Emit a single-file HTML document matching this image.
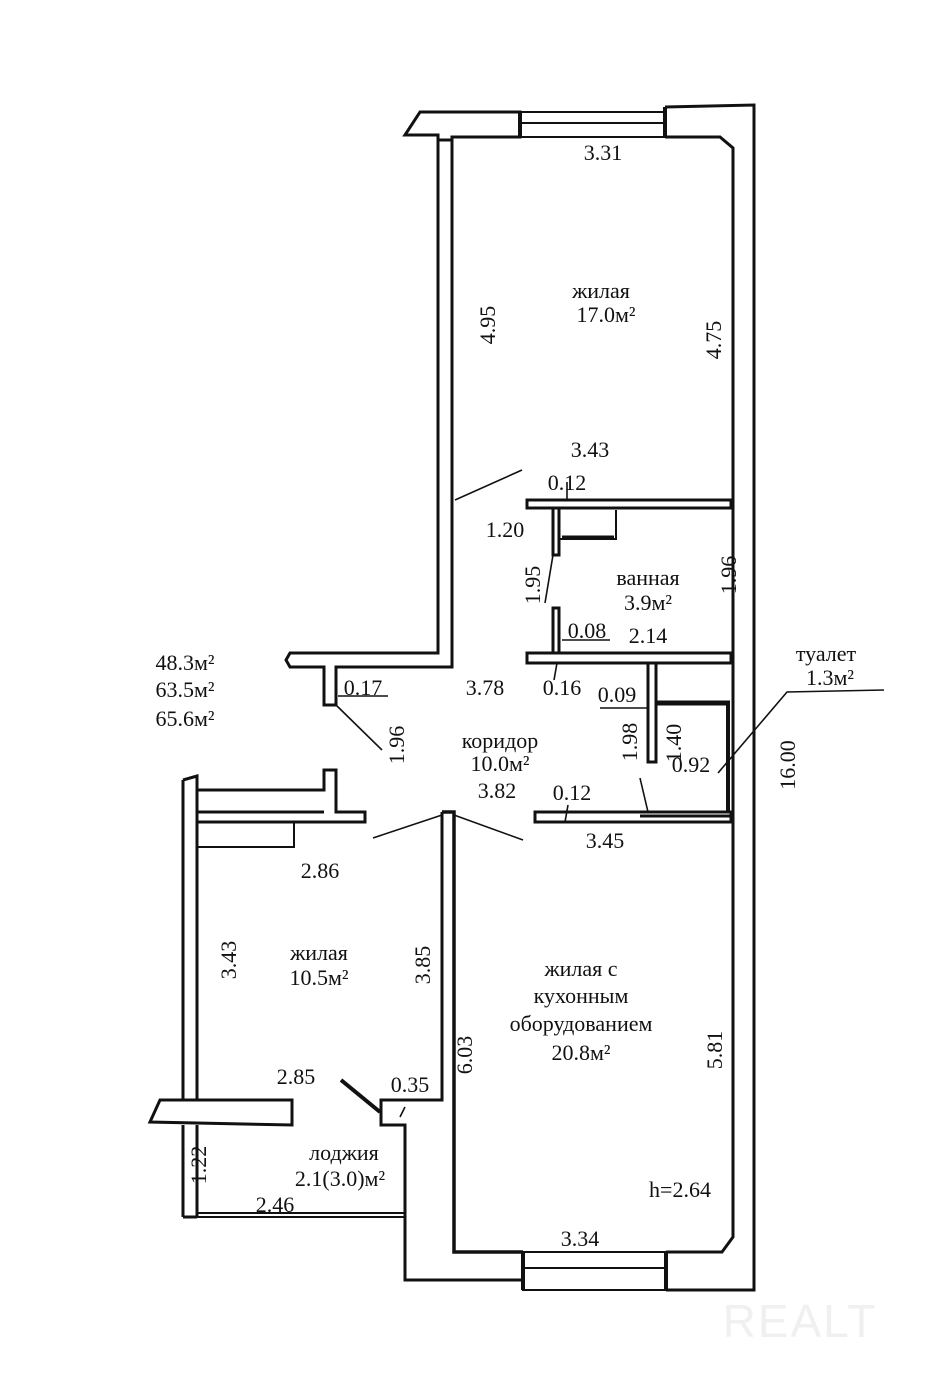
<!DOCTYPE html>
<html><head><meta charset="utf-8"><style>
html,body{margin:0;padding:0;background:#fff;}
svg{display:block;}
text{font-family:"Liberation Serif",serif;font-size:22px;fill:#111;}
</style></head><body>
<svg width="939" height="1388" viewBox="0 0 939 1388" xmlns="http://www.w3.org/2000/svg">
<g fill="none" stroke="#111" stroke-width="3" stroke-linejoin="miter">
<polyline points="665,107 754,105 754,1290 666,1290"/>
<polyline points="665,137 720,137 733,148 733,1237 722,1252 666,1252"/>
<polygon points="405,135 420,112 520,112 520,137 452,137 452,140 438,140 438,135"/>
<polygon points="520,112 665,112 665,137 520,137" stroke-width="2"/>
<line x1="522" y1="123" x2="663" y2="123" stroke-width="2"/>
<line x1="665" y1="107" x2="665" y2="137" stroke-width="4"/>
<line x1="520" y1="112" x2="520" y2="137" stroke-width="4"/>
<polyline points="438,140 438,653 290,653 286,660 290,667 324,667 324,705 336,705 336,667 452,667 452,140"/>
<polygon points="527,500 731,500 731,508 527,508"/>
<polygon points="553,508 559,508 559,555 553,555"/>
<polyline points="559,510 559,539 616,539 616,510" stroke-width="2"/>
<line x1="562" y1="537" x2="614" y2="537" stroke-width="3"/>
<polygon points="553,608 559,608 559,653 553,653"/>
<polygon points="527,653 731,653 731,663 527,663"/>
<polygon points="648,663 656,663 656,762 648,762"/>
<line x1="656" y1="703" x2="730" y2="703" stroke-width="5"/>
<line x1="728" y1="703" x2="728" y2="812" stroke-width="4"/>
<polygon points="535,812 731,812 731,822 535,822"/>
<line x1="640" y1="816" x2="730" y2="816" stroke-width="3"/>
<polyline points="183,780 197,776 197,1100"/>
<line x1="183" y1="780" x2="183" y2="1100"/>
<line x1="183" y1="1125" x2="183" y2="1217"/>
<line x1="197" y1="1125" x2="197" y2="1217"/>
<line x1="183" y1="1217" x2="197" y2="1217"/>
<polyline points="197,790 324,790 324,770 336,770 336,812 365,812 365,822 197,822"/>
<line x1="197" y1="812" x2="324" y2="812"/>
<polyline points="197,847 294,847 294,822" stroke-width="2"/>
<polyline points="442,812 454,812 454,1252 523,1252" stroke-width="3.5"/>
<polyline points="442,812 442,1100 381,1100 381,1125 405,1125 405,1280 523,1280"/>
<rect x="523" y="1252" width="143" height="38" stroke-width="2"/>
<line x1="523" y1="1268" x2="666" y2="1268" stroke-width="2"/>
<line x1="523" y1="1252" x2="523" y2="1290" stroke-width="4"/>
<line x1="666" y1="1252" x2="666" y2="1290" stroke-width="4"/>
<polygon points="150,1122 160,1100 292,1100 292,1125"/>
<line x1="197" y1="1213" x2="405" y2="1213" stroke-width="2"/>
<line x1="197" y1="1217" x2="405" y2="1217" stroke-width="2"/>
</g>
<g stroke="#111" stroke-width="1.6" fill="none">
<line x1="455" y1="500" x2="522" y2="470"/>
<line x1="553" y1="555" x2="545" y2="603"/>
<line x1="336" y1="705" x2="382" y2="750"/>
<line x1="640" y1="778" x2="648" y2="812"/>
<polyline points="718,773 787,692 884,690"/>
<line x1="373" y1="838" x2="442" y2="815"/>
<line x1="454" y1="815" x2="523" y2="840"/>
<line x1="341" y1="1080" x2="380" y2="1112" stroke-width="4"/>
<line x1="405" y1="1107" x2="400" y2="1117"/>
<line x1="562" y1="640" x2="610" y2="640"/>
<line x1="338" y1="696" x2="388" y2="696"/>
<line x1="600" y1="708" x2="648" y2="708"/>
<line x1="554" y1="680" x2="557" y2="663"/>
<line x1="567" y1="482" x2="567" y2="500"/>
<line x1="565" y1="822" x2="568" y2="805"/>
</g>
<g text-anchor="middle">
<text x="603" y="160">3.31</text>
<text x="601" y="298">жилая</text>
<text x="606" y="322">17.0м²</text>
<text transform="translate(495,325) rotate(-90)">4.95</text>
<text transform="translate(721,340) rotate(-90)">4.75</text>
<text x="590" y="457">3.43</text>
<text x="567" y="490">0.12</text>
<text x="505" y="537">1.20</text>
<text transform="translate(540,585) rotate(-90)">1.95</text>
<text x="648" y="585">ванная</text>
<text x="648" y="610">3.9м²</text>
<text transform="translate(736,575) rotate(-90)">1.96</text>
<text x="587" y="638">0.08</text>
<text x="648" y="643">2.14</text>
<text x="185" y="670">48.3м²</text>
<text x="185" y="697">63.5м²</text>
<text x="185" y="726">65.6м²</text>
<text x="363" y="695">0.17</text>
<text x="485" y="695">3.78</text>
<text x="562" y="695">0.16</text>
<text x="617" y="702">0.09</text>
<text transform="translate(404,745) rotate(-90)">1.96</text>
<text x="500" y="748">коридор</text>
<text x="500" y="771">10.0м²</text>
<text x="497" y="798">3.82</text>
<text transform="translate(637,742) rotate(-90)">1.98</text>
<text transform="translate(681,743) rotate(-90)">1.40</text>
<text x="826" y="661">туалет</text>
<text x="830" y="685">1.3м²</text>
<text x="691" y="772">0.92</text>
<text transform="translate(795,765) rotate(-90)">16.00</text>
<text x="572" y="800">0.12</text>
<text x="605" y="848">3.45</text>
<text x="320" y="878">2.86</text>
<text transform="translate(236,960) rotate(-90)">3.43</text>
<text x="319" y="960">жилая</text>
<text x="319" y="985">10.5м²</text>
<text transform="translate(430,965) rotate(-90)">3.85</text>
<text transform="translate(472,1055) rotate(-90)">6.03</text>
<text x="581" y="976">жилая с</text>
<text x="581" y="1003">кухонным</text>
<text x="581" y="1031">оборудованием</text>
<text x="581" y="1060">20.8м²</text>
<text transform="translate(722,1050) rotate(-90)">5.81</text>
<text x="296" y="1084">2.85</text>
<text x="410" y="1092">0.35</text>
<text transform="translate(206,1165) rotate(-90)">1.22</text>
<text x="344" y="1160">лоджия</text>
<text x="340" y="1186">2.1(3.0)м²</text>
<text x="275" y="1212">2.46</text>
<text x="680" y="1197">h=2.64</text>
<text x="580" y="1246">3.34</text>
</g>
<text x="800" y="1337" text-anchor="middle" style="font-family:'Liberation Sans',sans-serif;font-size:46px;fill:#f0f0f0;letter-spacing:2px">REALT</text>
</svg>
</body></html>
